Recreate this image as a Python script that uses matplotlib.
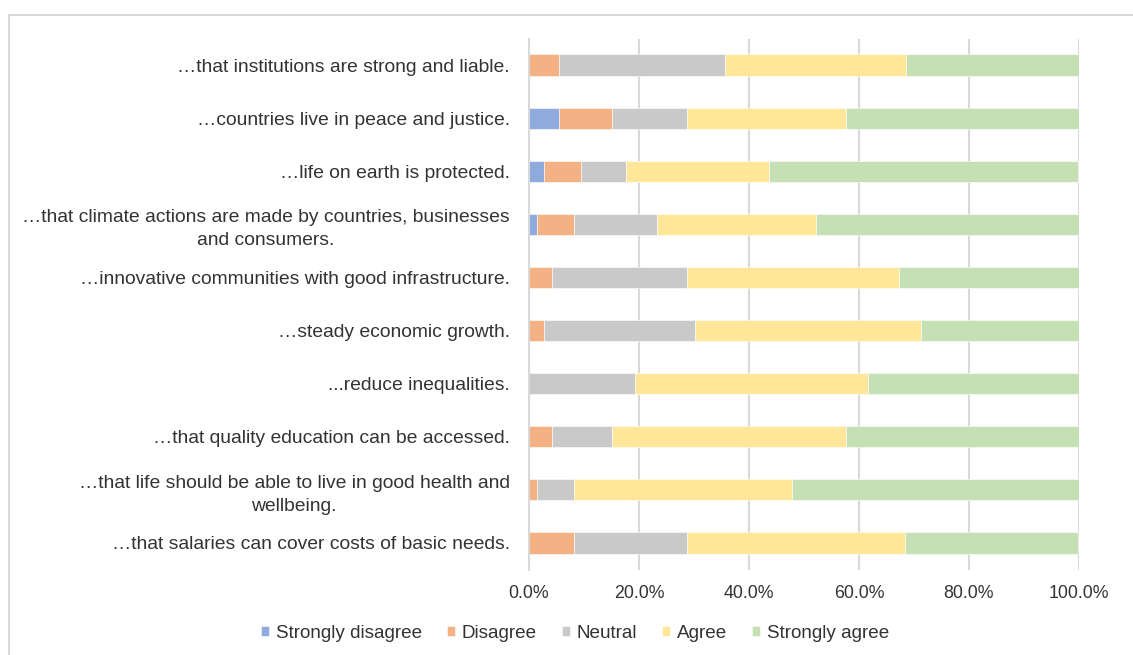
import matplotlib.pyplot as plt
from matplotlib.patches import Rectangle

plt.rcParams['font.family'] = ['Liberation Sans', 'DejaVu Sans']

categories = [
    "…that institutions are strong and liable.",
    "…countries live in peace and justice.",
    "…life on earth is protected.",
    "…that climate actions are made by countries, businesses\nand consumers.",
    "…innovative communities with good infrastructure.",
    "…steady economic growth.",
    "...reduce inequalities.",
    "…that quality education can be accessed.",
    "…that life should be able to live in good health and\nwellbeing.",
    "…that salaries can cover costs of basic needs.",
]

# percent of answers, top to bottom
strongly_disagree = [0.0, 5.5, 2.7, 1.4, 0.0, 0.0, 0.0, 0.0, 0.0, 0.0]
disagree = [5.5, 9.6, 6.8, 6.8, 4.1, 2.7, 0.0, 4.1, 1.4, 8.2]
neutral = [30.1, 13.7, 8.2, 15.1, 24.7, 27.4, 19.2, 11.0, 6.8, 20.5]
agree = [32.9, 28.8, 26.0, 28.8, 38.4, 41.1, 42.5, 42.5, 39.7, 39.7]
strongly_agree = [31.5, 42.5, 56.2, 47.9, 32.9, 28.8, 38.4, 42.5, 52.1, 31.5]

series = ["Strongly disagree", "Disagree", "Neutral", "Agree", "Strongly agree"]
colors = ["#8faadc", "#f4b183", "#c9c9c9", "#ffe699", "#c5e0b4"]
text_color = "#333333"

fig = plt.figure(figsize=(11.33, 6.55), dpi=100)
ax = fig.add_axes([529 / 1133, 1 - 569.5 / 655, 550 / 1133, 531 / 655])

# chart frame
fig.patches.append(Rectangle((9 / 1133, -0.1), 1.2, 1 - 15 / 655 + 0.1,
                             transform=fig.transFigure, fill=False,
                             edgecolor="#d9d9d9", linewidth=1.5))

ypos = list(range(len(categories)))[::-1]
left = [0.0] * len(categories)
for name, vals, col in zip(series, [strongly_disagree, disagree, neutral, agree, strongly_agree], colors):
    ax.barh(ypos, vals, left=left, height=0.4, color=col, label=name,
            edgecolor="white", linewidth=0.4, zorder=2)
    left = [l + v for l, v in zip(left, vals)]

ax.set_xlim(0, 100)
ax.set_ylim(-0.5, len(categories) - 0.5)
ax.set_xticks([0, 20, 40, 60, 80, 100])
ax.set_xticklabels(["0.0%", "20.0%", "40.0%", "60.0%", "80.0%", "100.0%"])
ax.set_yticks(ypos)
ax.set_yticklabels(categories, multialignment="center", linespacing=1.45)
ax.tick_params(axis="both", length=0, labelcolor=text_color)
ax.tick_params(axis="y", pad=14, labelsize=13.9)
ax.tick_params(axis="x", pad=11, labelsize=12.8)
ax.xaxis.grid(True, color="#d9d9d9", linewidth=1.5, zorder=0)
ax.set_axisbelow(True)
for s in ["top", "right", "bottom"]:
    ax.spines[s].set_visible(False)
ax.spines["left"].set_color("#d9d9d9")
ax.spines["left"].set_linewidth(1.5)

fig.legend(loc="center", bbox_to_anchor=(575 / 1133, 1 - 633 / 655), ncol=5,
           frameon=False, fontsize=13.6, handlelength=0.45, handleheight=0.45,
           handletextpad=0.35, columnspacing=1.3, labelcolor=text_color)

fig.savefig("out.png", dpi=100)
